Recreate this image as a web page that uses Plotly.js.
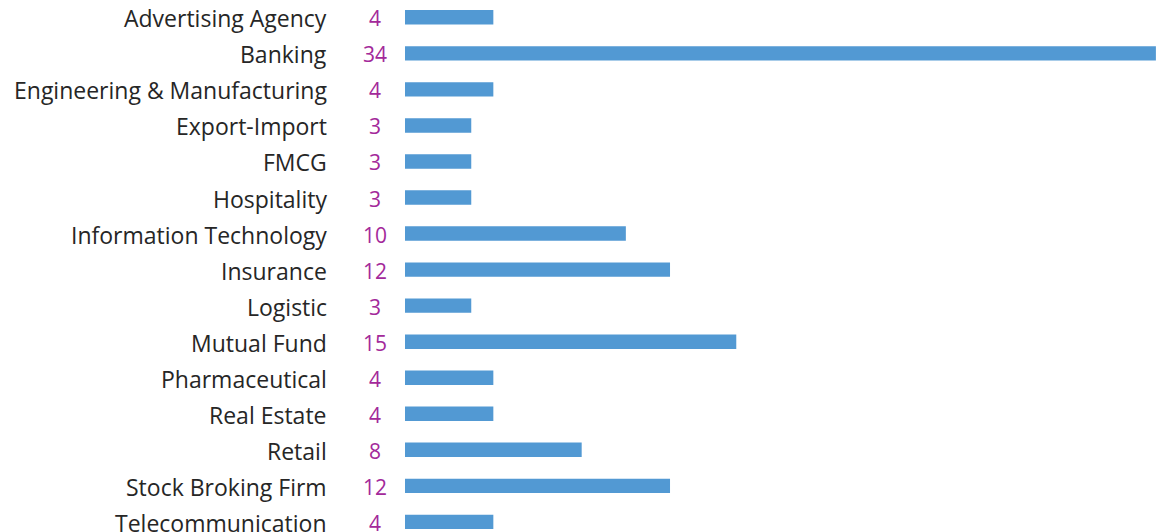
<!DOCTYPE html>
<html>
<head>
<meta charset="utf-8">
<script src="https://cdn.plot.ly/plotly-3.0.1.min.js"></script>
<style>
  html, body { margin: 0; padding: 0; background: #fff; }
  #chart { width: 1161px; height: 532px; }
</style>
</head>
<body>
<div id="chart"></div>
<script>
// industry categories, top to bottom
const industries = [
  'Advertising Agency', 'Banking', 'Engineering & Manufacturing', 'Export-Import',
  'FMCG', 'Hospitality', 'Information Technology', 'Insurance', 'Logistic',
  'Mutual Fund', 'Pharmaceutical', 'Real Estate', 'Retail', 'Stock Broking Firm',
  'Telecommunication'
];
const counts = [4, 34, 4, 3, 3, 3, 10, 12, 3, 15, 4, 4, 8, 12, 4];

const barColor = '#5299d3';
const valueColor = '#a3299a';
const textColor = '#262626';
const fontFamily = '"Open Sans", "Noto Sans", sans-serif';

const plotData = [
  {
    type: 'bar',
    orientation: 'h',
    x: counts,
    y: industries,
    marker: { color: barColor },
    hoverinfo: 'x+y'
  }
];

// category names, right aligned left of the value column
const nameLabels = industries.map(name => ({
  xref: 'paper',
  yref: 'y',
  x: -0.1008,
  y: name,
  text: name,
  showarrow: false,
  xanchor: 'right',
  yanchor: 'middle',
  yshift: -1,
  font: { family: fontFamily, size: 23, color: textColor }
}));

// value labels sit in the gutter between category names and bars
const valueLabels = industries.map((name, i) => ({
  xref: 'paper',
  yref: 'y',
  x: -0.0399,
  y: name,
  text: String(counts[i]),
  showarrow: false,
  xanchor: 'center',
  yanchor: 'middle',
  yshift: -1,
  font: { family: fontFamily, size: 21, color: valueColor }
}));

const layout = {
  width: 1161,
  height: 532,
  margin: { l: 405, r: 4, t: 0, b: 0 },
  paper_bgcolor: '#fff',
  plot_bgcolor: '#fff',
  showlegend: false,
  bargap: 0.6,
  font: { family: fontFamily, size: 20, color: textColor },
  xaxis: {
    range: [0, 34.05],
    visible: false,
    fixedrange: true
  },
  yaxis: {
    type: 'category',
    range: [14.28, -0.48],
    showgrid: false,
    zeroline: false,
    showline: false,
    showticklabels: false,
    ticks: '',
    fixedrange: true
  },
  annotations: nameLabels.concat(valueLabels)
};

Plotly.newPlot('chart', plotData, layout, { displayModeBar: false, staticPlot: true });
</script>
</body>
</html>
